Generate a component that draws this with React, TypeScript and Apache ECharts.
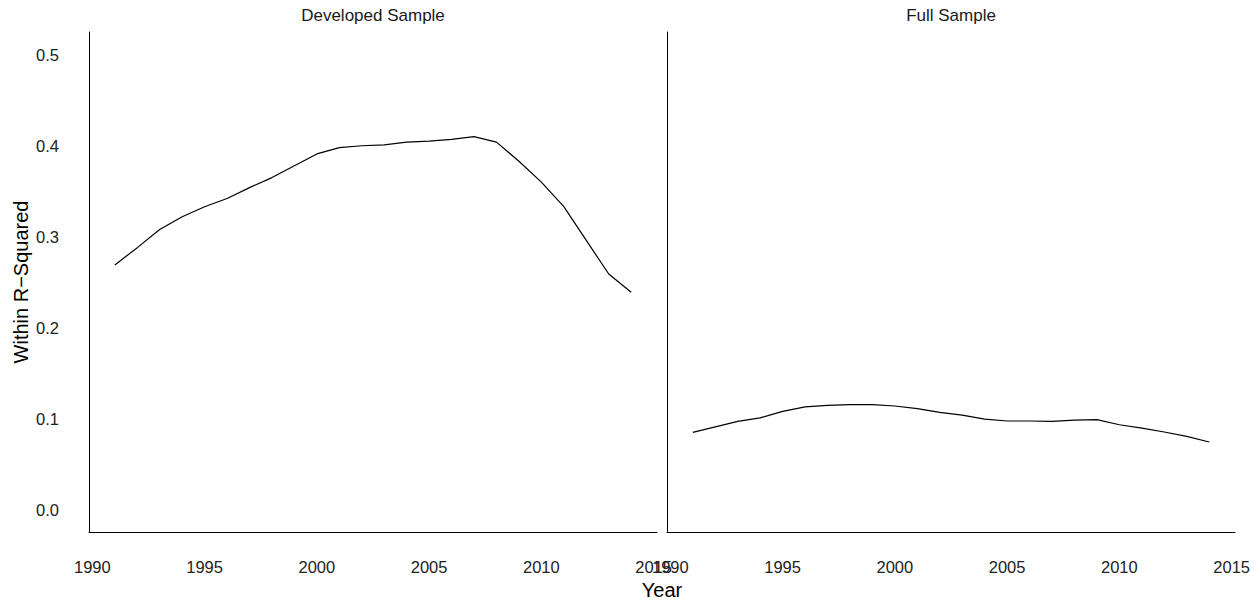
import React, { useEffect, useRef } from "react";
import * as echarts from "echarts";

const years = [1991, 1992, 1993, 1994, 1995, 1996, 1997, 1998, 1999, 2000, 2001, 2002, 2003, 2004, 2005, 2006, 2007, 2008, 2009, 2010, 2011, 2012, 2013, 2014];
const developed = [0.269, 0.288, 0.308, 0.322, 0.333, 0.342, 0.354, 0.365, 0.378, 0.391, 0.398, 0.400, 0.401, 0.404, 0.405, 0.407, 0.410, 0.404, 0.383, 0.360, 0.333, 0.296, 0.259, 0.239];
const full = [0.085, 0.091, 0.097, 0.101, 0.108, 0.113, 0.1146, 0.1154, 0.1154, 0.114, 0.111, 0.107, 0.104, 0.0996, 0.0975, 0.0975, 0.097, 0.0985, 0.099, 0.0934, 0.0897, 0.0854, 0.0806, 0.0744];
const panelTitles = ["Developed Sample", "Full Sample"];
const xTicks = [1990, 1995, 2000, 2005, 2010, 2015];
const yTicks = [0, 0.1, 0.2, 0.3, 0.4, 0.5];
const xTitle = "Year";
const yTitle = "Within R\u2212Squared";

const FONT = "Liberation Sans, Arial, sans-serif";

export default function App() {
  const ref = useRef<HTMLDivElement>(null);
  useEffect(() => {
    if (!ref.current) return;
    const chart = echarts.init(ref.current, null, { renderer: "svg" });
    const grids = [
      { left: 89, top: 32, width: 568, height: 500 },
      { left: 667, top: 32, width: 568, height: 500 },
    ];
    const xAxis = grids.map((_, i) => ({
      type: "value",
      gridIndex: i,
      min: 1989.85,
      max: 2015.15,
      splitLine: { show: false },
      axisTick: { show: false },
      axisLine: { show: true, onZero: false, lineStyle: { color: "#000", width: 1 } },
      axisLabel: {
        customValues: xTicks,
        showMinLabel: true,
        showMaxLabel: true,
        margin: 26,
        fontSize: 16.5,
        fontFamily: FONT,
        color: "#222",
        formatter: (v: number) => String(Math.round(v)),
      },
    }));
    const yAxis = grids.map((_, i) => ({
      type: "value",
      gridIndex: i,
      min: -0.0245,
      max: 0.525,
      splitLine: { show: false },
      axisTick: { show: false },
      axisLine: { show: true, onZero: false, lineStyle: { color: "#000", width: 1 } },
      axisLabel: {
        show: i === 0,
        customValues: yTicks,
        margin: 30,
        fontSize: 16.5,
        fontFamily: FONT,
        color: "#222",
        formatter: (v: number) => v.toFixed(1),
      },
    }));
    const mk = (vals: number[], i: number) => ({
      type: "line",
      xAxisIndex: i,
      yAxisIndex: i,
      data: years.map((y, k) => [y, vals[k]]),
      showSymbol: false,
      lineStyle: { color: "#000", width: 1.2 },
      silent: true,
    });
    chart.setOption({
      animation: false,
      backgroundColor: "#fff",
      grid: grids,
      xAxis,
      yAxis,
      series: [mk(developed, 0), mk(full, 1)],
      graphic: [
        {
          type: "text",
          x: 89 + 284,
          y: 15,
          style: { text: panelTitles[0], font: `17px ${FONT}`, fill: "#1a1a1a", textAlign: "center", textVerticalAlign: "middle" },
        },
        {
          type: "text",
          x: 667 + 284,
          y: 15,
          style: { text: panelTitles[1], font: `17px ${FONT}`, fill: "#1a1a1a", textAlign: "center", textVerticalAlign: "middle" },
        },
        {
          type: "text",
          x: 662,
          y: 590,
          style: { text: xTitle, font: `20px ${FONT}`, fill: "#000", textAlign: "center", textVerticalAlign: "middle" },
        },
        {
          type: "text",
          x: 21,
          y: 282,
          rotation: Math.PI / 2,
          style: { text: yTitle, font: `20px ${FONT}`, fill: "#000", textAlign: "center", textVerticalAlign: "middle" },
        },
      ],
    });
    return () => chart.dispose();
  }, []);
  return <div ref={ref} style={{ width: 1260, height: 603, position: "absolute", left: 0, top: 0 }} />;
}
